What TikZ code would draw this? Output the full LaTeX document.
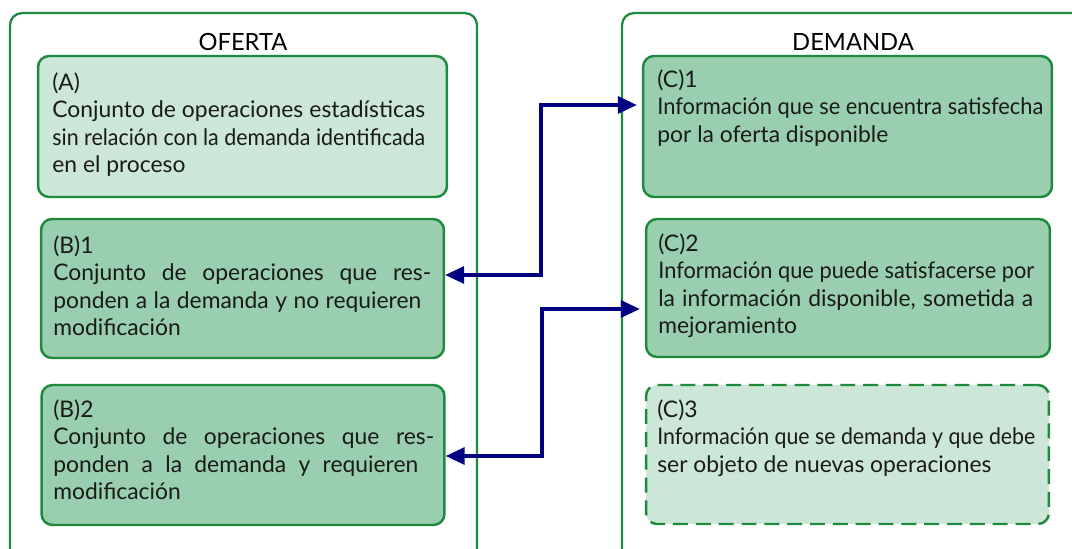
\documentclass[tikz,border=0pt]{standalone}
\usepackage{fontspec}
\setmainfont{Lato}
\usepackage{xcolor}
\usepackage{graphicx}
\usetikzlibrary{arrows.meta,positioning,calc}

\definecolor{frameg}{HTML}{1E8A3E}
\definecolor{fillmid}{HTML}{99CFAE}
\definecolor{filllight}{HTML}{CCE6D7}
\definecolor{linkblue}{HTML}{000080}
\definecolor{inkdark}{HTML}{1A1A1A}
% justified line: spread the spaces, or squeeze when too long
\newcommand{\jline}[2]{\sbox0{#2}\ifdim\wd0>#1\relax\resizebox{#1}{\height}{#2}\else\makebox[#1][s]{#2}\fi}

\begin{document}
\begin{tikzpicture}[x=0.02cm, y=-0.02cm,
    column/.style={draw=frameg, line width=1.3pt, rounded corners=0.24cm, inner sep=0pt},
    panel/.style={draw=frameg, line width=1.4pt, rounded corners=0.22cm, inner sep=0pt},
    midpanel/.style={panel, fill=fillmid},
    lightpanel/.style={panel, fill=filllight},
    ptext/.style={anchor=north west, inner sep=0pt, align=left, text=inkdark, font=\fontsize{13}{15.7}\selectfont},
    coltitle/.style={inner sep=0pt, font=\fontsize{13.5}{15}\selectfont},
    link/.style={draw=linkblue, line width=1.9pt, {Triangle[length=0.38cm,width=0.34cm]}-{Triangle[length=0.38cm,width=0.34cm]}}]
    \useasboundingbox (0,0) rectangle (1072,548);

    % Columns
    \node[column, minimum width=9.34cm, minimum height=11.74cm] (oferta) at (243.5,306.5) {};
    \node[column, minimum width=9.96cm, minimum height=11.74cm] (demanda) at (871,306.5) {};
    \node[coltitle] (tofe) at (243,42) {OFERTA};
    \node[coltitle] (tdem) at (853,42) {DEMANDA};

    % Offer boxes
    \node[lightpanel, minimum width=8.18cm, minimum height=2.82cm] (A) at (242.5,126.5) {};
    \node[midpanel, minimum width=8.06cm, minimum height=2.78cm] (B1) at (242.5,288.5) {};
    \node[midpanel, minimum width=8.06cm, minimum height=2.8cm] (B2) at (243,455) {};

    % Demand boxes
    \node[midpanel, minimum width=8.18cm, minimum height=2.82cm] (C1) at (847.5,126.5) {};
    \node[midpanel, minimum width=8.08cm, minimum height=2.76cm] (C2) at (848,288) {};
    \node[lightpanel, dash pattern=on 8.5pt off 4.5pt, minimum width=8.06cm, minimum height=2.78cm] (C3) at (847.5,454.5) {};

    % Texts
    \node[ptext] (tA) at (52,72) {(A)\\ \jline{7.46cm}{Conjunto de operaciones estadísticas}\\ \jline{7.46cm}{sin relación con la demanda identificada}\\ en el proceso};
    \node[ptext] (tB1) at (53,235) {(B)1\\ \jline{7.56cm}{Conjunto de operaciones que res-}\\ \jline{7.36cm}{ponden a la demanda y no requieren}\\ modificación};
    \node[ptext] (tB2) at (53,399) {(B)2\\ \jline{7.62cm}{Conjunto de operaciones que res-}\\ \jline{7.3cm}{ponden a la demanda y requieren}\\ modificación};
    \node[ptext] (tC1) at (657,69) {(C)1\\ \jline{7.72cm}{Información que se encuentra satisfecha}\\ por la oferta disponible};
    \node[ptext] (tC2) at (658,233) {(C)2\\ \jline{7.52cm}{Información que puede satisfacerse por}\\ \jline{7.5cm}{la información disponible, sometida a}\\ mejoramiento};
    \node[ptext] (tC3) at (657,399) {(C)3\\ \jline{7.56cm}{Información que se demanda y que debe}\\ ser objeto de nuevas operaciones};

    % Links
    \coordinate (bendA) at (541,105);
    \coordinate (bendB) at (541,275);
    \coordinate (bendC) at (542,309);
    \coordinate (bendD) at (542,456);
    \draw[link] (B1.east |- bendB) -- (bendB) -- (bendA) -- ([xshift=-0.1cm]C1.west |- bendA);
    \draw[link] (B2.east |- bendD) -- (bendD) -- (bendC) -- ([xshift=-0.1cm]C2.west |- bendC);
\end{tikzpicture}
\end{document}
